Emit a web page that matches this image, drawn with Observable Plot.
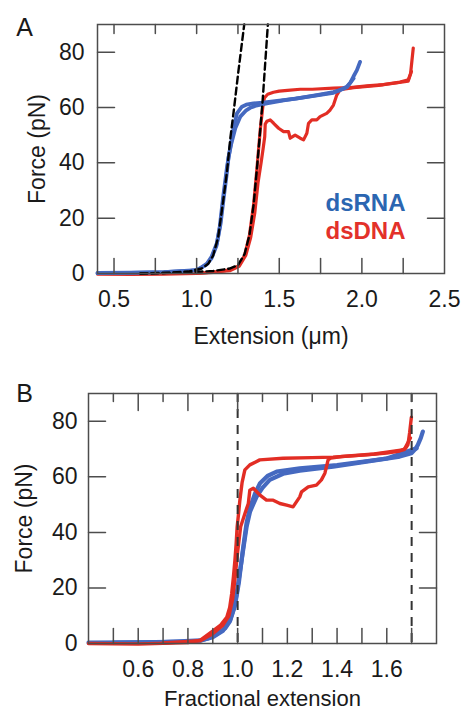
<!DOCTYPE html>
<html>
<head>
<meta charset="utf-8">
<script src="https://cdn.jsdelivr.net/npm/d3@7"></script>
<script src="https://cdn.jsdelivr.net/npm/@observablehq/plot@0.6"></script>
<style>
  html, body { margin: 0; padding: 0; background: #fff; }
  #chart { width: 461px; }
  #chart svg { display: block; }
</style>
</head>
<body>
<div id="chart"></div>
<script>
// ---------- panel A data : Force (pN) vs Extension (µm) ----------
const aTicksX = [0.5, 1.0, 1.5, 2.0, 2.5];
const aMinorX = [0.5, 0.75, 1.0, 1.25, 1.5, 1.75, 2.0, 2.25];
const forceTicks = [0, 20, 40, 60, 80];
const forceInnerTicks = [20, 40, 60, 80];

const aRnaStretch = [[0.40,0.2],[0.60,0.3],[0.80,0.5],[0.95,0.9],[1.00,1.3],[1.03,2.2],[1.063,3.6],[1.09,6],[1.123,11],[1.145,18],[1.163,27],[1.18,35],[1.193,42],[1.21,47],[1.234,52.5],[1.264,56.7],[1.30,59],[1.324,59.9],[1.36,60.7],[1.425,61.5],[1.526,62.6],[1.627,63.5],[1.727,64.5],[1.828,65.6],[1.868,66.3],[1.909,67.5],[1.93,69],[1.949,71.2],[1.97,73.5],[1.989,76.5]];
const aRnaRelax = [[1.95,70.5],[1.909,67.3],[1.828,65.3],[1.60,63.2],[1.40,61.8],[1.344,61.5],[1.30,61],[1.274,60.3],[1.244,57.9],[1.225,53],[1.204,45.8],[1.184,38.6],[1.16,27.5],[1.14,17],[1.12,10],[1.09,5.5],[1.06,3.2],[1.00,1.2],[0.80,0.5],[0.60,0.2],[0.40,0.1]];
const aDnaStretch = [[0.40,-0.2],[0.60,-0.3],[0.80,-0.2],[1.00,0],[1.10,0.4],[1.20,1.3],[1.25,2.6],[1.29,6.5],[1.32,14],[1.345,25],[1.365,38],[1.385,52],[1.40,60],[1.41,63.5],[1.43,64.8],[1.465,65.5],[1.50,65.9],[1.55,66.2],[1.627,66.6],[1.70,66.6],[1.828,67],[1.93,67.2],[2.03,67.8],[2.13,68.3],[2.231,69.2],[2.281,70],[2.295,72.4],[2.303,77],[2.311,81.5]];
const aDnaRelax = [[2.30,73],[2.28,69.5],[2.10,68],[1.95,67.2],[1.868,66.4],[1.848,64.5],[1.828,60.9],[1.808,59.1],[1.787,57.9],[1.747,56.7],[1.727,55.5],[1.697,55.5],[1.677,54.3],[1.667,50.7],[1.647,48.3],[1.627,48.9],[1.596,50],[1.566,48.9],[1.556,51.3],[1.526,51.3],[1.496,52.5],[1.466,54.3],[1.445,55.5],[1.425,55],[1.415,54],[1.412,49.4],[1.402,45],[1.39,40],[1.372,33],[1.352,22],[1.327,13],[1.297,6.5],[1.257,2.6],[1.20,1],[1.00,0]];
const aRnaFit = [[0.66,0],[0.80,0.2],[0.95,0.7],[1.03,1.8],[1.07,3.5],[1.10,6.5],[1.13,13],[1.16,26],[1.184,37],[1.204,49],[1.224,58.5],[1.253,73.2],[1.288,90]];
const aDnaFit = [[0.66,0],[0.90,0.3],[1.10,0.9],[1.20,1.8],[1.25,3],[1.29,7],[1.32,14],[1.345,25],[1.365,38],[1.385,52],[1.40,63],[1.431,90]];
const legendLabels = ["dsRNA", "dsDNA"];

// ---------- panel B data : Force (pN) vs Fractional extension ----------
const bTicksX = [0.6, 0.8, 1.0, 1.2, 1.4, 1.6];
const bMinorX = [0.5, 0.7, 0.9, 1.1, 1.3, 1.5, 1.7];
const bAllX = [0.5, 0.6, 0.7, 0.8, 0.9, 1.0, 1.1, 1.2, 1.3, 1.4, 1.5, 1.6, 1.7];
const bDashX = [1.0, 1.7];

const bRnaStretch = [[0.40,0.3],[0.60,0.4],[0.80,0.7],[0.849,1],[0.88,1.8],[0.916,3.4],[0.95,5.5],[0.969,8],[0.985,12.5],[0.996,17.9],[1.006,24],[1.016,29.9],[1.026,36],[1.036,42],[1.05,47.5],[1.076,52.8],[1.10,56],[1.129,58.9],[1.183,61.1],[1.25,62.2],[1.384,63.7],[1.518,65.5],[1.652,67.3],[1.699,68.5],[1.715,70],[1.725,71.5],[1.737,74],[1.745,76.3]];
const bRnaRelax = [[1.72,70.3],[1.60,66.6],[1.40,64.2],[1.25,63.1],[1.157,61.9],[1.12,60.3],[1.09,57.7],[1.07,54],[1.05,49],[1.036,43.5],[1.02,33],[1.005,22],[0.99,14],[0.97,8.5],[0.94,4.5],[0.90,2.3],[0.85,1.1],[0.70,0.5],[0.50,0.3]];
const bDnaStretch = [[0.40,0],[0.60,-0.2],[0.80,0.3],[0.85,1.2],[0.902,4.6],[0.93,6.5],[0.956,9.4],[0.968,13],[0.976,17.9],[0.983,24],[0.989,29.9],[0.994,36],[0.998,42],[1.004,47],[1.009,51.6],[1.018,58],[1.029,62.5],[1.049,64.3],[1.089,66.1],[1.183,66.7],[1.30,66.9],[1.384,67.1],[1.518,67.9],[1.60,68.6],[1.652,69.3],[1.675,70.2],[1.685,71.5],[1.692,76],[1.699,81.5]];
const bDnaRelax = [[1.695,74],[1.67,69.8],[1.55,68.2],[1.42,67.3],[1.375,66.8],[1.364,66.1],[1.351,61.3],[1.337,58.9],[1.317,57],[1.284,56.4],[1.257,54.6],[1.25,52.8],[1.223,49.2],[1.197,49.8],[1.17,50.4],[1.143,51.6],[1.116,51.6],[1.09,53.4],[1.063,55.9],[1.049,55.2],[1.043,50.4],[1.03,47],[1.012,42],[1.00,33],[0.99,24],[0.98,16],[0.965,10],[0.94,6.5],[0.90,3.5],[0.85,1],[0.70,0.2]];

(function () {
  const cBlue = "#4569c0";
  const cRed = "#e22d24";
  const cLegBlue = "#2b66b1";
  const cLegRed = "#e3312a";
  const cFrame = "#4d4d4d";
  const fam = '"Liberation Sans", Arial, Helvetica, sans-serif';
  const forceDomain = [0, 90];
  const gx = d => d[0];
  const gy = d => d[1];
  const trace = (data, stroke, w) => Plot.line(data, {x: gx, y: gy, stroke, strokeWidth: w, strokeLinejoin: "round", strokeLinecap: "round"});

  // tick marks drawn as short line segments through the plot's own scales
  function tickMarks(cfg) {
    const innerW = cfg.width - cfg.ml - cfg.mr;
    const innerH = cfg.height - cfg.mt - cfg.mb;
    const x0 = cfg.xDomain[0], x1 = cfg.xDomain[1];
    const y0 = forceDomain[0], y1 = forceDomain[1];
    const kx = (x1 - x0) / innerW;
    const ky = (y1 - y0) / innerH;
    const segs = [];
    let id = 0;
    for (const g of cfg.bottomGroups) for (const v of g.vals) { id++; segs.push({x: v, y: y0, k: id}, {x: v, y: y0 + g.len * ky, k: id}); }
    for (const g of cfg.topGroups) for (const v of g.vals) { id++; segs.push({x: v, y: y1 - g.len * ky, k: id}, {x: v, y: y1, k: id}); }
    for (const v of forceInnerTicks) {
      id++; segs.push({x: x0, y: v, k: id}, {x: x0 + 17 * kx, y: v, k: id});
      id++; segs.push({x: x1 - 17 * kx, y: v, k: id}, {x: x1, y: v, k: id});
    }
    return [Plot.line(segs, {x: "x", y: "y", z: "k", stroke: cFrame, strokeWidth: 1.5})];
  }

  function panel(cfg) {
    return Plot.plot({
      width: cfg.width,
      height: cfg.height,
      marginLeft: cfg.ml, marginRight: cfg.mr, marginTop: cfg.mt, marginBottom: cfg.mb,
      style: {fontFamily: fam, fontSize: "23px", color: "#1a1a1a", background: "#fff", overflow: "visible"},
      x: {domain: cfg.xDomain},
      y: {domain: forceDomain},
      marks: [
        ...cfg.traces,
        ...cfg.overlays,
        ...tickMarks(cfg),
        Plot.frame({stroke: cFrame, strokeWidth: 1.5}),
        Plot.axisX({ticks: cfg.xLabels, tickSize: 0, tickPadding: cfg.xPad, tickFormat: d3.format(".1f"), label: null, fontSize: 23}),
        Plot.axisY({ticks: forceTicks, tickSize: 0, tickPadding: cfg.yPad, label: null, fontSize: 23}),
        Plot.text([cfg.xTitle], {text: d => d, frameAnchor: "bottom", dy: cfg.xTitleDy, lineAnchor: "middle", fontSize: cfg.xTitleSize, fill: "#1a1a1a"}),
        Plot.text(["Force (pN)"], {text: d => d, frameAnchor: "left", dx: cfg.yTitleDx, rotate: -90, textAnchor: "middle", lineAnchor: "middle", fontSize: 23, fill: "#1a1a1a"}),
        Plot.text([cfg.letter], {text: d => d, frameAnchor: "top-left", dx: cfg.letterDx, dy: cfg.letterDy, textAnchor: "middle", lineAnchor: "middle", fontSize: 25, fill: "#1a1a1a"}),
        ...cfg.extra
      ]
    });
  }

  const chart = document.getElementById("chart");

  // ---------- Panel A ----------
  chart.append(panel({
    width: 461, height: 360, ml: 97, mr: 17, mt: 24, mb: 87,
    xDomain: [0.4, 2.5],
    xLabels: aTicksX,
    bottomGroups: [{vals: aMinorX, len: 15}],
    topGroups: [{vals: aMinorX, len: 9}],
    xPad: 17, yPad: 13,
    xTitle: "Extension (\u03bcm)", xTitleDy: 63, xTitleSize: 23,
    yTitleDx: -60,
    letter: "A", letterDx: -73, letterDy: 3,
    traces: [
      trace(aDnaStretch, cRed, 3.2),
      trace(aDnaRelax, cRed, 3.2),
      trace(aRnaRelax, cBlue, 3.8),
      trace(aRnaStretch, cBlue, 3.8)
    ],
    overlays: [
      Plot.line(aRnaFit, {x: gx, y: gy, stroke: "#000", strokeWidth: 2.4, strokeDasharray: "7,4"}),
      Plot.line(aDnaFit, {x: gx, y: gy, stroke: "#000", strokeWidth: 2.4, strokeDasharray: "7,4"})
    ],
    extra: [
      Plot.text([legendLabels[0]], {text: d => d, frameAnchor: "bottom-right", dx: -39, dy: -70, textAnchor: "end", lineAnchor: "middle", fontSize: 24, fontWeight: "bold", fill: cLegBlue}),
      Plot.text([legendLabels[1]], {text: d => d, frameAnchor: "bottom-right", dx: -39, dy: -42, textAnchor: "end", lineAnchor: "middle", fontSize: 24, fontWeight: "bold", fill: cLegRed})
    ]
  }));

  // ---------- Panel B ----------
  chart.append(panel({
    width: 461, height: 352, ml: 88, mr: 25, mt: 33, mb: 69,
    xDomain: [0.4, 1.8],
    xLabels: bTicksX,
    bottomGroups: [{vals: bAllX, len: 15}],
    topGroups: [{vals: bTicksX, len: 17}, {vals: bMinorX, len: 8}],
    xPad: 17, yPad: 11,
    xTitle: "Fractional extension", xTitleDy: 55, xTitleSize: 22,
    yTitleDx: -64,
    letter: "B", letterDx: -64, letterDy: 0,
    traces: [
      trace(bRnaRelax, cBlue, 4.2),
      trace(bRnaStretch, cBlue, 4.2),
      trace(bDnaStretch, cRed, 3.4),
      trace(bDnaRelax, cRed, 3.4)
    ],
    overlays: [
      Plot.ruleX(bDashX, {x: d => d, stroke: "#333", strokeWidth: 2, strokeDasharray: "9,7"})
    ],
    extra: []
  }));
})();
</script>
</body>
</html>
